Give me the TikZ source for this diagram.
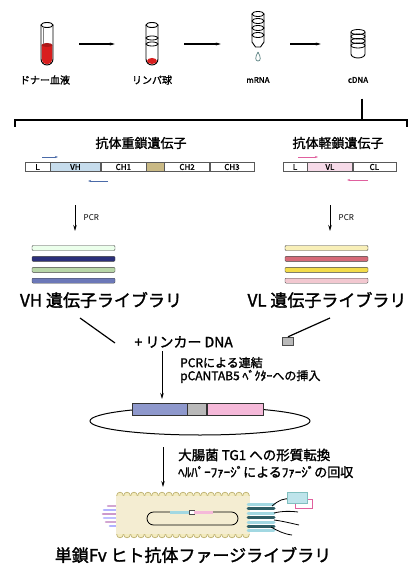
\documentclass[tikz,border=0pt]{standalone}
\usepackage{fontspec}
\setmainfont{Noto Sans CJK JP}[AutoFakeBold=1.6]
\usetikzlibrary{positioning,arrows.meta}

\newcommand{\setfs}[1]{\fontsize{#1}{#1}\selectfont}

\definecolor{bloodred}{HTML}{D81E1E}
\definecolor{vhblue}{HTML}{C6DCEC}
\definecolor{hingetan}{HTML}{C9B985}
\definecolor{vlpink}{HTML}{F6DAE8}
\definecolor{primerblue}{HTML}{4A6AA8}
\definecolor{primerpink}{HTML}{E0609E}
\definecolor{plasblue}{HTML}{8E98CC}
\definecolor{plaspink}{HTML}{F5B9D9}
\definecolor{cream}{HTML}{F4EDD2}
\definecolor{beadfill}{HTML}{F3EBBE}
\definecolor{beadline}{HTML}{BDB070}
\definecolor{tealdark}{HTML}{2E5E66}
\definecolor{teallight}{HTML}{A2D8E2}

\tikzset{
    tubebox/.style={
        rectangle,
        draw=none, % 試験管の位置だけ
        minimum width=12pt,
        minimum height=44pt,
        inner sep=0
    },
    tubelabel/.style={
        font=\bfseries\setfs{10}
    },
    genebox/.style={
        rectangle,
        draw=gray!70!black, % 遺伝子の区画
        fill=white,
        minimum height=9pt,
        inner sep=0,
        font=\bfseries\setfs{8}
    },
    libbar/.style={
        rectangle,
        draw=black!75,
        rounded corners=1pt,
        minimum width=83pt,
        minimum height=5pt,
        inner sep=0
    },
    plasbar/.style={
        rectangle,
        draw=black!80,
        minimum height=12pt,
        inner sep=0
    },
    arr/.style={
        -{Stealth[length=6pt,width=3.5pt]},
        line width=0.8pt
    },
    toparr/.style={
        -{Stealth[length=5pt,width=3pt]},
        line width=1.2pt,
        shorten <=26pt,
        shorten >=31pt
    },
    primer/.style={
        -{Stealth[length=3pt,width=2pt]},
        line width=0.9pt
    },
    heading/.style={
        font=\bfseries\setfs{13}
    },
    liblabel/.style={
        font=\bfseries\setfs{17}
    },
    steptext/.style={
        anchor=west,
        align=left,
        inner sep=0,
        font=\bfseries\setfs{12}
    }
}

\begin{document}
\begin{tikzpicture}[x=1pt,y=-1pt]
    \useasboundingbox[fill=white] (0,0) rectangle (409,569);

    % 試験管の列
    \node[tubebox] (blood) at (47,44) {};
    \node[tubebox] (lymph) at (152,44) {};
    \node[tubebox] (mrna) at (258,44) {};
    \node[tubebox] (cdna) at (358,44) {};

    % 血液
    \fill[bloodred] (41.6,45) -- (41.6,59) arc[start angle=180,end angle=0,radius=5.4] -- (52.4,45) -- cycle;
    \fill[bloodred!80!black] (47,45) ellipse[x radius=5.4,y radius=2];
    \draw[line width=0.9pt] (41,25) -- (41,59) arc[start angle=180,end angle=0,radius=6] -- (53,25);
    \draw[line width=0.9pt] (47,25) ellipse[x radius=6,y radius=2.5];
    \draw[gray] (43,28) -- (43,44);

    % リンパ球
    \fill[bloodred] (152,61) ellipse[x radius=5,y radius=3];
    \draw[line width=0.9pt] (146,25) -- (146,59) arc[start angle=180,end angle=0,radius=6] -- (158,25);
    \draw[line width=0.9pt] (152,25) ellipse[x radius=6,y radius=2.5];
    \draw[line width=0.8pt] (152,38) ellipse[x radius=6,y radius=2];
    \draw[line width=0.8pt] (152,44) ellipse[x radius=6,y radius=2];

    % mRNA
    \draw[line width=0.9pt] (252,14) -- (252,42) -- (255.5,47) -- (260.5,47) -- (264,42) -- (264,14);
    \foreach \y in {14,21,28,35}
        \draw[line width=0.8pt] (258,\y) ellipse[x radius=6,y radius=2.5];
    \draw[gray!70!teal,line width=0.7pt] (258,52) .. controls (255,57) and (255,61) .. (258,61) .. controls (261,61) and (261,57) .. (258,52);

    % cDNA
    \draw[line width=0.9pt] (351,32) -- (351,54) arc[start angle=180,end angle=0,x radius=7,y radius=4] -- (365,32);
    \foreach \y in {32,36.5,41,45.5}
        \draw[line width=0.8pt] (358,\y) ellipse[x radius=7,y radius=2.5];

    \draw[toparr] (blood) -- (lymph);
    \draw[toparr] (lymph) -- (mrna);
    \draw[toparr] (mrna) -- (cdna);

    \node[tubelabel] (bloodlbl) at (45,80) {ドナー血液};
    \node[tubelabel] (lymphlbl) at (152,80) {リンパ球};
    \node[tubelabel, font=\bfseries\setfs{8}] (mrnalbl) at (258,80) {mRNA};
    \node[tubelabel, font=\bfseries\setfs{8}] (cdnalbl) at (358,80) {cDNA};

    % 重鎖と軽鎖に分ける
    \coordinate (split) at (362,120);
    \draw[line width=1.2pt, shorten <=12pt] (cdnalbl.south -| split) -- (split);
    \draw[line width=1.2pt] (15,127) -- (15,120) -- (407,120) -- (407,127);

    \node[heading] (hhead) at (141,143) {抗体重鎖遺伝子};
    \node[heading] (lhead) at (338,143) {抗体軽鎖遺伝子};

    % 重鎖遺伝子
    \node[genebox, minimum width=25pt] (hL) at (37.5,167) {L};
    \node[genebox, minimum width=50pt, fill=vhblue, right=0pt of hL] (hVH) {VH};
    \node[genebox, minimum width=45pt, right=0pt of hVH] (hCH1) {CH1};
    \node[genebox, minimum width=18pt, fill=hingetan, right=0pt of hCH1] (hHinge) {};
    \node[genebox, minimum width=45pt, right=0pt of hHinge] (hCH2) {CH2};
    \node[genebox, minimum width=44pt, right=0pt of hCH2] (hCH3) {CH3};

    % 軽鎖遺伝子
    \node[genebox, minimum width=24pt] (lL) at (295,167) {L};
    \node[genebox, minimum width=45pt, fill=vlpink, right=0pt of lL] (lVL) {VL};
    \node[genebox, minimum width=43pt, right=0pt of lVL] (lCL) {CL};

    % プライマー
    \draw[primer, primerblue] (42,157) -- (58,157);
    \draw[primer, primerblue] (108,181) -- (88,181);
    \draw[primer, primerpink] (298,157) -- (318,157);
    \draw[primer, primerpink] (368,180) -- (347,180);

    % PCR
    \coordinate (hpcrA) at (75,205);
    \coordinate (hpcrB) at (75,231);
    \coordinate (lpcrA) at (330,205);
    \coordinate (lpcrB) at (330,231);
    \draw[arr] (hpcrA) -- node[right=5pt, font=\setfs{8}] {PCR} (hpcrB);
    \draw[arr] (lpcrA) -- node[right=5pt, font=\setfs{8}] {PCR} (lpcrB);

    % VH ライブラリ
    \node[libbar, fill=green!8!white] (hlib1) at (73.5,248) {};
    \node[libbar, fill={rgb,255:red,43;green,47;blue,122}, below=5.5pt of hlib1] (hlib2) {};
    \node[libbar, fill={rgb,255:red,184;green,214;blue,168}, below=5.5pt of hlib2] (hlib3) {};
    \node[libbar, fill={rgb,255:red,108;green,120;blue,184}, below=5.5pt of hlib3] (hlib4) {};

    % VL ライブラリ
    \node[libbar, fill={rgb,255:red,248;green,239;blue,184}] (llib1) at (326.5,248) {};
    \node[libbar, fill={rgb,255:red,214;green,106;blue,120}, below=5.5pt of llib1] (llib2) {};
    \node[libbar, fill={rgb,255:red,243;green,220;blue,74}, below=5.5pt of llib2] (llib3) {};
    \node[libbar, fill={rgb,255:red,242;green,200;blue,208}, below=5.5pt of llib3] (llib4) {};

    \node[liblabel] (hlibtxt) at (101,300) {VH 遺伝子ライブラリ};
    \node[liblabel] (llibtxt) at (327,300) {VL 遺伝子ライブラリ};

    % リンカーで連結
    \node[font=\bfseries\setfs{14}, anchor=west] (linker) at (131,342) {+ リンカー DNA};
    \node[rectangle, draw=black!70, fill=gray!55, minimum width=11pt, minimum height=8pt, inner sep=0] (linkerbox) at (288,341) {};
    \coordinate (vhout) at (80,318);
    \coordinate (joinL) at (115,343);
    \coordinate (vlout) at (330,318);
    \draw[line width=1.2pt] (vhout) -- (joinL);
    \draw[line width=1.2pt] (vlout) -- (linkerbox.north);

    \coordinate (ligA) at (162,351);
    \coordinate (ligB) at (162,399);
    \draw[arr] (ligA) -- (ligB);
    \node[steptext] (ligtext) at (180,370) {PCRによる連結\\[1pt]pCANTAB5 ﾍﾞｸﾀｰへの挿入};

    % プラスミド
    \draw[line width=1pt] (200,421) ellipse[x radius=110,y radius=14];
    \node[plasbar, minimum width=55pt, fill=plasblue] (pVH) at (159.5,409) {};
    \node[plasbar, minimum width=19pt, fill=gray!55, right=0pt of pVH] (pLink) {};
    \node[plasbar, minimum width=56pt, fill=plaspink, right=0pt of pLink] (pVL) {};

    \coordinate (trA) at (163,447);
    \coordinate (trB) at (163,487);
    \draw[arr] (trA) -- (trB);
    \node[steptext, font=\bfseries\setfs{13.5}] (trtext1) at (178,455) {大腸菌 TG1 への形質転換};
    \node[steptext, font=\bfseries\setfs{13}] (trtext2) at (178,472) {ﾍﾙﾊﾟｰﾌｧｰｼﾞによるﾌｧｰｼﾞの回収};

    % ファージ
    \foreach \y/\c/\s in {506/violet!35/108,510/blue!30/104,514/violet!40/103,518/blue!25/104,522/violet!35/106,526/blue!30/110}
        \draw[\c, line width=2.6pt, line cap=round] (\s,\y) -- (121,\y);
    \foreach \x in {120,127,...,246} {
        \draw[beadline, fill=beadfill, line width=0.7pt] (\x,495.5) circle (3.3);
        \draw[beadline, fill=beadfill, line width=0.7pt] (\x,534.5) circle (3.3);
    }
    \fill[cream] (116,496) rectangle (250,534);
    \draw[line width=0.8pt] (153.5,512) -- (231.5,512) arc[start angle=-90,end angle=90,radius=6.5] -- (153.5,525) arc[start angle=90,end angle=270,radius=6.5];
    \fill[teallight] (170,510.5) rectangle (189,513.5);
    \draw[black!70, fill=white, line width=0.4pt] (189,510) rectangle (194,514);
    \fill[plaspink] (194,510.5) rectangle (213,513.5);
    \foreach \y/\c in {504/teallight,508.5/tealdark,513/teallight,517.5/tealdark,522/teallight,526.5/tealdark,530.5/teallight}
        \draw[\c, line width=3pt, line cap=round] (248,\y) -- (274,\y);
    \draw[line width=0.8pt] (272,506) .. controls (279,500) and (284,498) .. (291,499);
    \draw[line width=0.8pt] (274,513) .. controls (282,511) and (290,511) .. (298,512);
    \draw[line width=0.8pt] (274,520) .. controls (282,521) and (290,523) .. (299,525);
    \draw[line width=0.8pt] (271,527) .. controls (278,531) and (284,534) .. (292,535);
    \draw[primerpink, fill=white, line width=0.8pt] (295,499) rectangle (312,508);
    \draw[teal!50, fill=teallight!70, line width=0.6pt] (287,492) rectangle (307,503);

    \node[font=\bfseries\setfs{17}] (title) at (193,555) {単鎖Fv ヒト抗体ファージライブラリ};
\end{tikzpicture}
\end{document}
